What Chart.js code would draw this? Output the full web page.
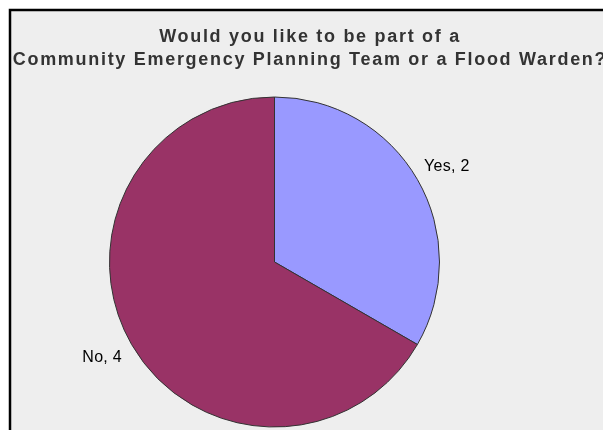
<!DOCTYPE html>
<html>
<head>
<meta charset="utf-8">
<script src="https://cdn.jsdelivr.net/npm/chart.js@4/dist/chart.umd.min.js"></script>
<style>
  html, body { margin: 0; padding: 0; background: #fff; }
  #wrap { position: relative; width: 603px; height: 430px; overflow: hidden; }
</style>
</head>
<body>
<div id="wrap"><canvas id="pieChart" width="603" height="430"></canvas></div>
<script>
var titleLines = ['Would you like to be part of a', 'Community Emergency Planning Team or a Flood Warden?'];
var answers = ['Yes', 'No'];
var counts = [2, 4];
var sliceColors = ['#9999ff', '#993366'];

// grey plot panel with the black frame, then the two-line title
var framePlugin = {
    id: 'frame',
    beforeDraw: function(chart){
        var c = chart.ctx;
        c.save();
        c.fillStyle = '#eeeeee';
        c.fillRect(10, 10, 620, 440);
        c.strokeStyle = '#000';
        c.lineWidth = 2.5;
        c.strokeRect(10, 10, 620, 440);
        c.restore();
    },
    afterDraw: function(chart){
        var c = chart.ctx;
        c.save();
        c.fillStyle = '#333333';
        c.font = 'bold 18px "Liberation Sans", Arial, sans-serif';
        c.letterSpacing = '1.7px';
        c.textAlign = 'center';
        c.textBaseline = 'alphabetic';
        c.fillText(titleLines[0], 310, 42);
        c.fillText(titleLines[1], 310, 65);
        c.restore();
    }
};

// "Category, value" labels outside each slice
var outsideLabels = {
    id: 'outsideLabels',
    afterDatasetsDraw: function(chart){
        var c = chart.ctx;
        var meta = chart.getDatasetMeta(0);
        c.save();
        c.fillStyle = '#000';
        c.font = '16px "Liberation Sans", Arial, sans-serif';
        c.letterSpacing = '0.3px';
        c.textAlign = 'center';
        c.textBaseline = 'middle';
        meta.data.forEach(function(arc, i){
            var mid = (arc.startAngle + arc.endAngle) / 2;
            var r = arc.outerRadius + 34;
            var x = arc.x + Math.cos(mid) * r;
            var y = arc.y + Math.sin(mid) * r * 0.96;
            c.fillText(answers[i] + ', ' + counts[i], x, y);
        });
        c.restore();
    }
};

new Chart(document.getElementById('pieChart').getContext('2d'), {
    type: 'pie',
    data: {
        labels: answers,
        datasets: [{
            data: counts,
            backgroundColor: sliceColors,
            borderColor: '#333333',
            borderWidth: 1
        }]
    },
    options: {
        responsive: false,
        animation: false,
        layout: { padding: { left: 109, right: 163, top: 96, bottom: 2 } },
        plugins: {
            legend: { display: false },
            title: { display: false },
            tooltip: { enabled: false }
        }
    },
    plugins: [framePlugin, outsideLabels]
});
</script>
</body>
</html>
